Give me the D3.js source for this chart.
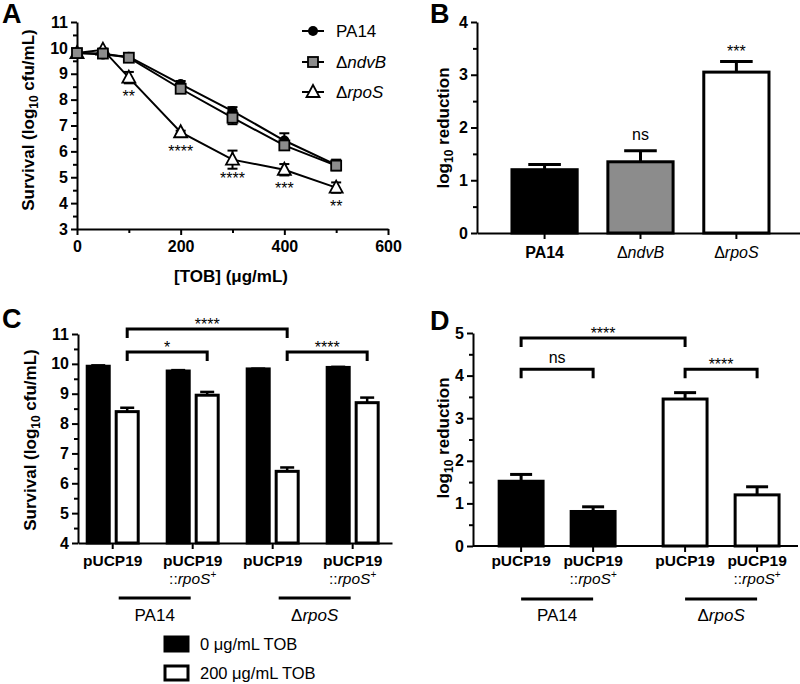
<!DOCTYPE html>
<html>
<head>
<meta charset="utf-8">
<script src="https://cdn.jsdelivr.net/npm/d3@7"></script>
<style>
  body { margin: 0; background: #fff; }
  svg { display: block; }
</style>
</head>
<body>
<script>
// ---------------- DATA ----------------
// Panel A: survival vs tobramycin concentration
const tobConc = [0, 50, 100, 200, 300, 400, 500];
const survPA14 = [9.80, 9.74, 9.66, 8.60, 7.56, 6.42, 5.48];
const survPA14Err = [0.08, 0.04, 0.06, 0.12, 0.15, 0.28, 0.20];
const survNdvB = [9.80, 9.78, 9.62, 8.42, 7.30, 6.23, 5.45];
const survNdvBErr = [0.08, 0.06, 0.06, 0.10, 0.25, 0.15, 0.18];
const survRpoS = [9.80, 9.93, 8.85, 6.74, 5.68, 5.29, 4.60];
const survRpoSErr = [0.08, 0.04, 0.22, 0.06, 0.35, 0.22, 0.20];
const rpoSSig = ["", "", "**", "****", "****", "***", "**"];
const seriesNamesA = ["PA14", "ndvB", "rpoS"];
const xTicksA = [0, 200, 400, 600];
const yTicksA = [3, 4, 5, 6, 7, 8, 9, 10, 11];

// Panel B: log10 reduction
const bCats = ["PA14", "ndvB", "rpoS"];
const bValues = [1.20, 1.35, 3.05];
const bErr = [0.10, 0.21, 0.20];
const bSig = ["", "ns", "***"];
const yTicksB = [0, 1, 2, 3, 4];

// Panel C: complementation survival
const cGroups = ["PA14 pUCP19", "PA14 pUCP19::rpoS+", "rpoS pUCP19", "rpoS pUCP19::rpoS+"];
const cTob0 = [9.92, 9.76, 9.83, 9.88];
const cTob0Err = [0.03, 0.03, 0.01, 0.02];
const cTob200 = [8.40, 8.95, 6.40, 8.70];
const cTob200Err = [0.13, 0.11, 0.13, 0.17];
const cBrackets = [
  { from: 0, to: 2, level: 11.17, label: "****" },
  { from: 0, to: 1, level: 10.40, label: "*" },
  { from: 2, to: 3, level: 10.40, label: "****" }
];
const yTicksC = [4, 5, 6, 7, 8, 9, 10, 11];

// Panel D: complementation log10 reduction
const dStrains = ["PA14", "rpoS"];
const dPlasmids = ["pUCP19", "pUCP19::rpoS+"];
const dValues = [[1.52, 0.81], [3.45, 1.20]];
const dErr = [[0.16, 0.11], [0.15, 0.19]];
const dBrackets = [
  { from: [0, 0], to: [1, 0], level: 4.88, label: "****" },
  { from: [0, 0], to: [0, 1], level: 4.15, label: "ns" },
  { from: [1, 0], to: [1, 1], level: 4.15, label: "****" }
];
const yTicksD = [0, 1, 2, 3, 4, 5];

// ---------------- SETUP ----------------
const FONT = "'Liberation Sans', Arial, Helvetica, sans-serif";
const fmtInt = d3.format("d");
const svg = d3.select("body").append("svg").attr("width", 800).attr("height", 684)
  .style("font-family", FONT);

function styleAxis(g, fs) {
  g.select(".domain").attr("stroke", "#000").attr("stroke-width", 2);
  g.selectAll(".tick line").attr("stroke", "#000").attr("stroke-width", 2);
  g.selectAll(".tick text").attr("font-family", FONT).attr("font-weight", "bold")
    .attr("font-size", fs || 16).attr("fill", "#000");
}
function minorLeft(g, scale, vals) {
  g.call(d3.axisLeft(scale).tickValues(vals).tickSize(4).tickFormat(""));
  g.select(".domain").remove();
  g.selectAll(".tick line").attr("stroke", "#000").attr("stroke-width", 2);
}
function halves(ticks) {
  return ticks.slice(0, -1).map(t => t + (ticks[1] - ticks[0]) / 2);
}
function panelLabel(txt, x, y) {
  svg.append("text").attr("x", x).attr("y", y).text(txt)
    .attr("font-weight", "bold").attr("font-size", 27).attr("fill", "#000");
}
function yTitle(x, y, main, sub, rest) {
  const t = svg.append("text").attr("transform", `translate(${x},${y}) rotate(-90)`)
    .attr("text-anchor", "middle").attr("font-weight", "bold").attr("font-size", 17).attr("fill", "#000");
  t.append("tspan").text(main);
  if (sub) {
    t.append("tspan").text(sub).attr("font-size", 12).attr("dy", 4);
    t.append("tspan").text(rest).attr("dy", -4);
  }
}
function stars(x, yCenter, txt, fs) {
  svg.append("text").attr("x", x).attr("y", yCenter + fs * 0.58).attr("text-anchor", "middle")
    .attr("font-size", fs).attr("fill", "#000").text(txt);
}

// ---------------- PANEL A ----------------
(function () {
  const xA = d3.scaleLinear().domain([0, 600]).range([77, 388]);
  const yA = d3.scaleLinear().domain([3, 11]).range([229, 22]);
  panelLabel("A", 2, 23);

  const gx = svg.append("g").attr("transform", `translate(0,${yA(3)})`)
    .call(d3.axisBottom(xA).tickValues(xTicksA).tickSize(6).tickSizeOuter(0).tickPadding(6).tickFormat(fmtInt));
  styleAxis(gx);
  const gxm = svg.append("g").attr("transform", `translate(0,${yA(3)})`)
    .call(d3.axisBottom(xA).tickValues([100, 300, 500]).tickSize(4).tickFormat(""));
  gxm.select(".domain").remove();
  gxm.selectAll(".tick line").attr("stroke", "#000").attr("stroke-width", 2);

  const gy = svg.append("g").attr("transform", `translate(${xA(0)},0)`)
    .call(d3.axisLeft(yA).tickValues(yTicksA).tickSize(6).tickSizeOuter(0).tickPadding(3).tickFormat(fmtInt));
  styleAxis(gy);
  minorLeft(svg.append("g").attr("transform", `translate(${xA(0)},0)`), yA, halves(yTicksA));

  yTitle(34, 120, "Survival (log", "10", " cfu/mL)");
  svg.append("text").attr("x", 231).attr("y", 282).attr("text-anchor", "middle")
    .attr("font-weight", "bold").attr("font-size", 17).text("[TOB] (\u03bcg/mL)");

  const series = [
    { name: "PA14", vals: survPA14, err: survPA14Err },
    { name: "ndvB", vals: survNdvB, err: survNdvBErr },
    { name: "rpoS", vals: survRpoS, err: survRpoSErr }
  ];
  const line = d3.line().x((d, i) => xA(tobConc[i])).y(d => yA(d));
  series.forEach(s => {
    svg.append("path").datum(s.vals).attr("d", line).attr("fill", "none")
      .attr("stroke", "#000").attr("stroke-width", 2);
  });
  series.forEach(s => {
    const g = svg.append("g").attr("stroke", "#000").attr("stroke-width", 2);
    s.vals.forEach((v, i) => {
      const x = xA(tobConc[i]);
      g.append("line").attr("x1", x).attr("x2", x).attr("y1", yA(v - s.err[i])).attr("y2", yA(v + s.err[i]));
      g.append("line").attr("x1", x - 5).attr("x2", x + 5).attr("y1", yA(v - s.err[i])).attr("y2", yA(v - s.err[i]));
      g.append("line").attr("x1", x - 5).attr("x2", x + 5).attr("y1", yA(v + s.err[i])).attr("y2", yA(v + s.err[i]));
    });
  });
  function marker(name, x, y) {
    if (name === "PA14") {
      svg.append("circle").attr("cx", x).attr("cy", y).attr("r", 5).attr("fill", "#000");
    } else if (name === "ndvB") {
      svg.append("rect").attr("x", x - 5).attr("y", y - 5).attr("width", 10).attr("height", 10)
        .attr("fill", "#8c8c8c").attr("stroke", "#000").attr("stroke-width", 1.8);
    } else {
      svg.append("path").attr("d", `M${x},${y - 7}L${x + 6.5},${y + 5}L${x - 6.5},${y + 5}Z`)
        .attr("fill", "#fff").attr("stroke", "#000").attr("stroke-width", 1.8);
    }
  }
  ["rpoS", "PA14", "ndvB"].forEach(n => {
    const s = series.find(d => d.name === n);
    s.vals.forEach((v, i) => marker(n, xA(tobConc[i]), yA(v)));
  });
  survRpoS.forEach((v, i) => {
    if (rpoSSig[i]) stars(xA(tobConc[i]), yA(v) + 15, rpoSSig[i], 16);
  });

  const legY = [31, 62, 92];
  const legLabels = [["", "PA14"], ["\u0394", "ndvB"], ["\u0394", "rpoS"]];
  seriesNamesA.forEach((n, i) => {
    svg.append("line").attr("x1", 302).attr("x2", 324).attr("y1", legY[i]).attr("y2", legY[i])
      .attr("stroke", "#000").attr("stroke-width", 2);
    marker(n, 313, legY[i]);
    const t = svg.append("text").attr("x", 336).attr("y", legY[i] + 6).attr("font-size", 17).attr("fill", "#000");
    if (legLabels[i][0]) t.append("tspan").text(legLabels[i][0]);
    t.append("tspan").text(legLabels[i][1]).attr("font-style", i ? "italic" : "normal");
  });
})();

// ---------------- PANEL B ----------------
(function () {
  const xB = d3.scaleBand().domain(bCats).range([477, 800]).paddingInner(0.32).paddingOuter(0.344).align(0.53);
  const yB = d3.scaleLinear().domain([0, 4]).range([233, 22]);
  panelLabel("B", 430, 23);
  const fills = ["#000", "#8c8c8c", "#fff"];

  bCats.forEach((c, i) => {
    svg.append("rect").attr("x", xB(c)).attr("y", yB(bValues[i])).attr("width", xB.bandwidth())
      .attr("height", yB(0) - yB(bValues[i])).attr("fill", fills[i]).attr("stroke", "#000").attr("stroke-width", 3);
    const cx = xB(c) + xB.bandwidth() / 2;
    const ye = yB(bValues[i] + bErr[i]);
    svg.append("line").attr("x1", cx).attr("x2", cx).attr("y1", yB(bValues[i])).attr("y2", ye)
      .attr("stroke", "#000").attr("stroke-width", 3);
    svg.append("line").attr("x1", cx - xB.bandwidth() / 4).attr("x2", cx + xB.bandwidth() / 4).attr("y1", ye).attr("y2", ye)
      .attr("stroke", "#000").attr("stroke-width", 3);
    if (bSig[i] === "ns") {
      svg.append("text").attr("x", cx).attr("y", ye - 11).attr("text-anchor", "middle")
        .attr("font-size", 16).attr("fill", "#000").text("ns");
    } else if (bSig[i]) {
      stars(cx, ye - 14, bSig[i], 16);
    }
  });

  const gx = svg.append("g").attr("transform", `translate(0,${yB(0)})`)
    .call(d3.axisBottom(xB).tickSize(6).tickSizeOuter(0).tickFormat(""));
  styleAxis(gx);
  const gy = svg.append("g").attr("transform", `translate(477,0)`)
    .call(d3.axisLeft(yB).tickValues(yTicksB).tickSize(6).tickSizeOuter(0).tickPadding(3).tickFormat(fmtInt));
  styleAxis(gy);
  minorLeft(svg.append("g").attr("transform", `translate(477,0)`), yB, halves(yTicksB));

  bCats.forEach((c, i) => {
    const cx = xB(c) + xB.bandwidth() / 2;
    const t = svg.append("text").attr("x", cx).attr("y", 258).attr("text-anchor", "middle")
      .attr("font-size", 16).attr("fill", "#000");
    if (i === 0) t.attr("font-weight", "bold").text(c);
    else { t.append("tspan").text("\u0394"); t.append("tspan").attr("font-style", "italic").text(c); }
  });
  yTitle(449, 128, "log", "10", " reduction");
})();

// ---------------- PANEL C ----------------
(function () {
  const xC = d3.scaleBand().domain(cGroups).range([78, 392]).paddingInner(0.3625).paddingOuter(0.144).align(0.4);
  const sub = d3.scaleBand().domain(["0", "200"]).range([0, xC.bandwidth()]).paddingInner(0.24);
  const yC = d3.scaleLinear().domain([4, 11]).range([543, 334]);
  panelLabel("C", 2, 328);

  function barX(i, k) { return xC(cGroups[i]) + sub(k); }
  function barCx(i, k) { return barX(i, k) + sub.bandwidth() / 2; }

  cGroups.forEach((gname, i) => {
    [["0", cTob0, cTob0Err, "#000"], ["200", cTob200, cTob200Err, "#fff"]].forEach(([k, vals, errs, fill]) => {
      const v = vals[i];
      svg.append("rect").attr("x", barX(i, k)).attr("y", yC(v)).attr("width", sub.bandwidth())
        .attr("height", yC(4) - yC(v)).attr("fill", fill).attr("stroke", "#000").attr("stroke-width", 3);
      const cx = barCx(i, k), ye = yC(v + errs[i]);
      svg.append("line").attr("x1", cx).attr("x2", cx).attr("y1", yC(v)).attr("y2", ye).attr("stroke", "#000").attr("stroke-width", 2.5);
      svg.append("line").attr("x1", cx - 7).attr("x2", cx + 7).attr("y1", ye).attr("y2", ye).attr("stroke", "#000").attr("stroke-width", 2.5);
    });
  });

  const gx = svg.append("g").attr("transform", `translate(0,${yC(4)})`)
    .call(d3.axisBottom(xC).tickSize(6).tickSizeOuter(0).tickFormat(""));
  styleAxis(gx);
  const gy = svg.append("g").attr("transform", `translate(78,0)`)
    .call(d3.axisLeft(yC).tickValues(yTicksC).tickSize(6).tickSizeOuter(0).tickPadding(3).tickFormat(fmtInt));
  styleAxis(gy);
  minorLeft(svg.append("g").attr("transform", `translate(78,0)`), yC, halves(yTicksC));
  yTitle(36, 440, "Survival (log", "10", " cfu/mL)");

  cBrackets.forEach(b => {
    const x1 = barCx(b.from, "200"), x2 = barCx(b.to, "200");
    const y = yC(b.level), yl = y + 9;
    svg.append("path").attr("d", `M${x1},${yl}V${y}H${x2}V${yl}`).attr("fill", "none")
      .attr("stroke", "#000").attr("stroke-width", 3);
    stars((x1 + x2) / 2, y - 8, b.label, 16);
  });

  cGroups.forEach((g, i) => {
    const cx = xC(g) + xC.bandwidth() / 2;
    svg.append("text").attr("x", cx).attr("y", 566).attr("text-anchor", "middle").attr("font-weight", "bold")
      .attr("font-size", 15.5).attr("fill", "#000").text("pUCP19");
    if (g.indexOf("::") > -1) {
      const t = svg.append("text").attr("x", cx).attr("y", 584).attr("text-anchor", "middle")
        .attr("font-size", 15.5).attr("fill", "#000");
      t.append("tspan").text("::");
      t.append("tspan").attr("font-style", "italic").text("rpoS");
      t.append("tspan").attr("font-size", 10).attr("dy", -6).text("+");
    }
  });
  [[0, 1, "", "PA14"], [2, 3, "\u0394", "rpoS"]].forEach(([a, b, pre, name]) => {
    const ca = xC(cGroups[a]) + xC.bandwidth() / 2, cb = xC(cGroups[b]) + xC.bandwidth() / 2;
    const mid = (ca + cb) / 2 + 2;
    svg.append("line").attr("x1", mid - 36).attr("x2", mid + 36).attr("y1", 598).attr("y2", 598)
      .attr("stroke", "#000").attr("stroke-width", 3);
    const t = svg.append("text").attr("x", mid).attr("y", 621).attr("text-anchor", "middle")
      .attr("font-size", 17).attr("fill", "#000");
    if (pre) t.append("tspan").text(pre);
    t.append("tspan").attr("font-style", pre ? "italic" : "normal").text(name);
  });

  const legItems = [["#000", "0 \u03bcg/mL TOB"], ["#fff", "200 \u03bcg/mL TOB"]];
  legItems.forEach(([fill, label], i) => {
    const y = 644 + i * 29;
    svg.append("rect").attr("x", 165).attr("y", y - 7).attr("width", 23).attr("height", 14)
      .attr("fill", fill).attr("stroke", "#000").attr("stroke-width", 3);
    svg.append("text").attr("x", 200).attr("y", y + 6).attr("font-size", 16.5).attr("fill", "#000").text(label);
  });
})();

// ---------------- PANEL D ----------------
(function () {
  const xD = d3.scaleBand().domain(dStrains).range([473, 798]).paddingInner(0.293).paddingOuter(0.1375).align(0.58);
  const sub = d3.scaleBand().domain(dPlasmids).range([0, xD.bandwidth()]).paddingInner(0.39);
  const yD = d3.scaleLinear().domain([0, 5]).range([546, 333]);
  panelLabel("D", 430, 330);
  const fills = ["#000", "#fff"];

  function cx(s, p) { return xD(dStrains[s]) + sub(dPlasmids[p]) + sub.bandwidth() / 2; }

  dStrains.forEach((s, si) => {
    dPlasmids.forEach((p, pi) => {
      const v = dValues[si][pi], e = dErr[si][pi];
      svg.append("rect").attr("x", xD(s) + sub(p)).attr("y", yD(v)).attr("width", sub.bandwidth())
        .attr("height", yD(0) - yD(v)).attr("fill", fills[si]).attr("stroke", "#000").attr("stroke-width", 3);
      const x = cx(si, pi), ye = yD(v + e);
      svg.append("line").attr("x1", x).attr("x2", x).attr("y1", yD(v)).attr("y2", ye).attr("stroke", "#000").attr("stroke-width", 3);
      svg.append("line").attr("x1", x - 11).attr("x2", x + 11).attr("y1", ye).attr("y2", ye).attr("stroke", "#000").attr("stroke-width", 3);
    });
  });

  const tickVals = [];
  dStrains.forEach((s, si) => dPlasmids.forEach((p, pi) => tickVals.push(cx(si, pi))));
  const gx = svg.append("g").attr("transform", `translate(0,${yD(0)})`);
  gx.append("line").attr("x1", 473).attr("x2", 798).attr("y1", 0).attr("y2", 0).attr("stroke", "#000").attr("stroke-width", 2);
  tickVals.forEach(x => gx.append("line").attr("x1", x).attr("x2", x).attr("y1", 0).attr("y2", 6).attr("stroke", "#000").attr("stroke-width", 2));

  const gy = svg.append("g").attr("transform", `translate(473,0)`)
    .call(d3.axisLeft(yD).tickValues(yTicksD).tickSize(6).tickSizeOuter(0).tickPadding(3).tickFormat(fmtInt));
  styleAxis(gy);
  minorLeft(svg.append("g").attr("transform", `translate(473,0)`), yD, halves(yTicksD));
  yTitle(449, 438, "log", "10", " reduction");

  dBrackets.forEach(b => {
    const x1 = cx(b.from[0], b.from[1]), x2 = cx(b.to[0], b.to[1]);
    const y = yD(b.level), yl = y + 9;
    svg.append("path").attr("d", `M${x1},${yl}V${y}H${x2}V${yl}`).attr("fill", "none")
      .attr("stroke", "#000").attr("stroke-width", 3);
    if (b.label === "ns") {
      svg.append("text").attr("x", (x1 + x2) / 2).attr("y", y - 6).attr("text-anchor", "middle")
        .attr("font-size", 16).attr("fill", "#000").text("ns");
    } else stars((x1 + x2) / 2, y - 8, b.label, 16);
  });

  dStrains.forEach((s, si) => dPlasmids.forEach((p, pi) => {
    const x = cx(si, pi);
    svg.append("text").attr("x", x).attr("y", 566).attr("text-anchor", "middle").attr("font-weight", "bold")
      .attr("font-size", 15.5).attr("fill", "#000").text("pUCP19");
    if (p.indexOf("::") > -1) {
      const t = svg.append("text").attr("x", x).attr("y", 584).attr("text-anchor", "middle")
        .attr("font-size", 15.5).attr("fill", "#000");
      t.append("tspan").text("::");
      t.append("tspan").attr("font-style", "italic").text("rpoS");
      t.append("tspan").attr("font-size", 10).attr("dy", -6).text("+");
    }
  }));
  dStrains.forEach((s, si) => {
    const a = cx(si, 0), b = cx(si, 1);
    svg.append("line").attr("x1", a).attr("x2", b).attr("y1", 599).attr("y2", 599).attr("stroke", "#000").attr("stroke-width", 3);
    const t = svg.append("text").attr("x", (a + b) / 2).attr("y", 621).attr("text-anchor", "middle")
      .attr("font-size", 17).attr("fill", "#000");
    if (si) { t.append("tspan").text("\u0394"); t.append("tspan").attr("font-style", "italic").text(s); }
    else t.text(s);
  });
})();
</script>
</body>
</html>
